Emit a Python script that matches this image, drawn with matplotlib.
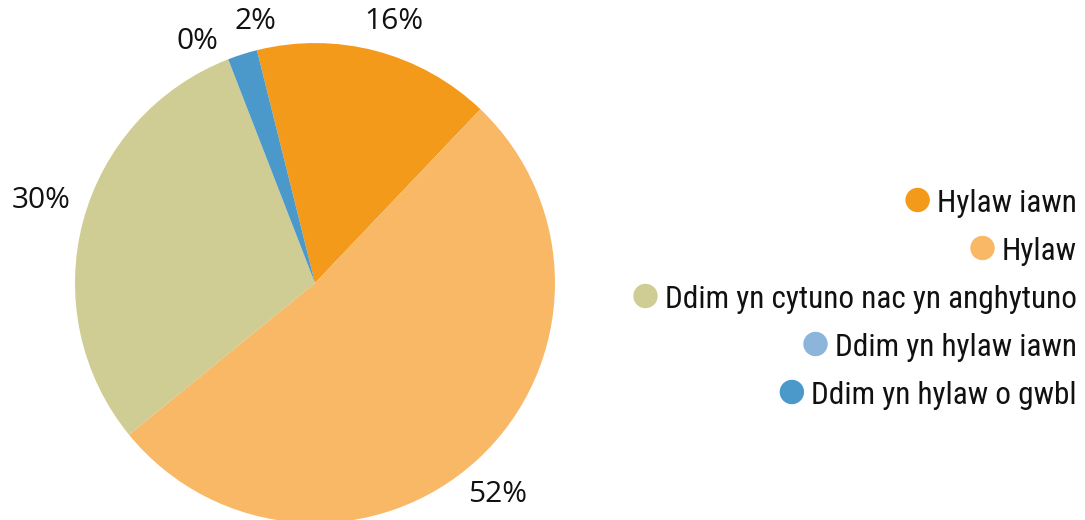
import numpy as np
import matplotlib
matplotlib.use("Agg")
import matplotlib.pyplot as plt
from matplotlib import font_manager
from matplotlib.patches import Circle

# data
categories = ["Hylaw iawn", "Hylaw", "Ddim yn cytuno nac yn anghytuno",
              "Ddim yn hylaw iawn", "Ddim yn hylaw o gwbl"]
values = [16, 52, 30, 0, 2]
pct_labels = ["16%", "52%", "30%", "0%", "2%"]
colors = ["#F39A1A", "#F8B865", "#CFCD94", "#8DB4DB", "#4B98CA"]

# pick a narrow font for the legend if one is installed
installed = {f.name for f in font_manager.fontManager.ttflist}
legend_font = "Roboto"
for cand in ["Roboto Condensed", "Liberation Sans Narrow", "Open Sans Condensed",
             "Noto Sans Condensed", "DejaVu Sans Condensed"]:
    if cand in installed:
        legend_font = cand
        break

fig = plt.figure(figsize=(10.85, 5.2), dpi=100)
ax = fig.add_axes([0.0691, -0.0058, 0.4424, 0.923])

wedges, _ = ax.pie(values, colors=colors, startangle=104, counterclock=False,
                   radius=1.0, wedgeprops=dict(linewidth=0))
ax.set_xlim(-1, 1)
ax.set_ylim(-1, 1)
ax.set_aspect("equal")
ax.axis("off")

# percentage labels outside the slices
label_r = [1.14, 1.165, 1.19, 1.12, 1.12]
label_shift = [-2.0, -2.0, -2.0, 4.7, -4.7]  # small angular nudges (deg)
for w, lab, r, sh in zip(wedges, pct_labels, label_r, label_shift):
    mid = np.deg2rad((w.theta1 + w.theta2) / 2 + sh)
    ax.text(r * np.cos(mid), r * np.sin(mid), lab, ha="center", va="center",
            fontsize=21.5, family="Open Sans", color="#111111", clip_on=False)

# legend, right aligned with marker before each entry
fig.canvas.draw()
renderer = fig.canvas.get_renderer()
W, H = 1085, 520
x_right = 1077 / W
y_top = 1 - 200 / H
row_step = 48 / H
for i, (name, col) in enumerate(zip(categories, colors)):
    y = y_top - i * row_step
    t = fig.text(x_right, y, name, ha="right", va="center_baseline", fontsize=22.5,
                 family=legend_font, fontstretch="condensed", color="#111111")
    bb = t.get_window_extent(renderer)
    mk = Circle((bb.x0 - 19.5, y * H), 11.5, transform=None, color=col)
    fig.patches.append(mk)

fig.savefig("out.png", dpi=100)
